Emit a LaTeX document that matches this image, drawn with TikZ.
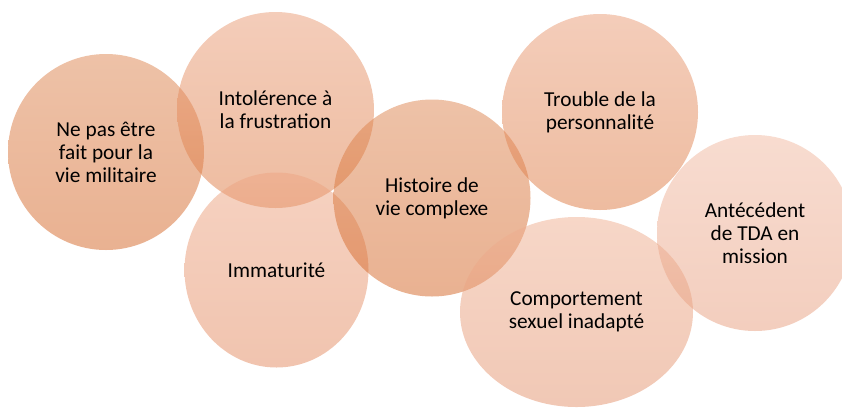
\documentclass[tikz,border=0pt]{standalone}
\usepackage{fontspec}
\setmainfont{Carlito}
\usetikzlibrary{shapes.geometric}
\definecolor{aTop}{RGB}{221,133,80}
\definecolor{aBot}{RGB}{212,100,36}
\definecolor{bTop}{RGB}{233,155,117}
\definecolor{bBot}{RGB}{221,121,65}
\definecolor{cTop}{RGB}{237,165,131}
\definecolor{cBot}{RGB}{227,137,95}
\definecolor{dTop}{RGB}{241,185,161}
\definecolor{dBot}{RGB}{231,157,125}
\definecolor{eTop}{RGB}{239,175,145}
\definecolor{eBot}{RGB}{227,145,107}
\tikzset{
  blob/.style={shape=ellipse, inner sep=0pt, outer sep=0pt, fill opacity=0.5, text opacity=1,
    align=center, text=black, font=\fontsize{21.3}{23}\selectfont},
  toneA/.style={blob, top color=aTop, bottom color=aBot},
  toneB/.style={blob, top color=bTop, bottom color=bBot},
  toneC/.style={blob, top color=cTop, bottom color=cBot},
  toneD/.style={blob, top color=dTop, bottom color=dBot},
  toneE/.style={blob, top color=eTop, bottom color=eBot},
}
\begin{document}
\begin{tikzpicture}[x=1pt,y=-1pt]
\useasboundingbox (0,0) rectangle (842,408);
\node[toneA, minimum width=196pt, minimum height=196pt] (mil) at (106,152) {Ne pas être\\fait pour la\\vie militaire};
\node[toneB, minimum width=197pt, minimum height=196pt] (frus) at (275.5,110) {Intolérence à\\la frustration};
\node[toneC, minimum width=184pt, minimum height=195pt] (imm) at (276.5,270) {Immaturité};
\node[toneA, minimum width=197pt, minimum height=197pt] (hist) at (432,198) {Histoire de\\vie complexe};
\node[toneB, minimum width=196pt, minimum height=196pt] (pers) at (600,112) {Trouble de la\\personnalité};
\node[toneE, minimum width=233pt, minimum height=190pt] (sex) at (576.5,312) {Comportement\\sexuel inadapté};
\node[toneD, minimum width=196pt, minimum height=196pt] (tda) at (755,233) {Antécédent\\de TDA en\\mission};
\end{tikzpicture}
\end{document}
